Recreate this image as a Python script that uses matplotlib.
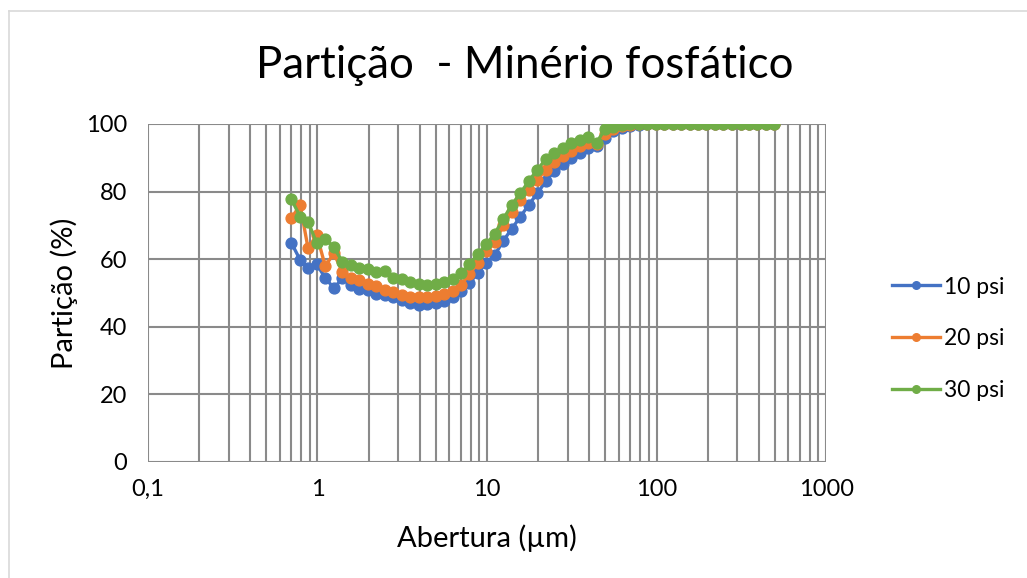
import matplotlib.pyplot as plt
from matplotlib.lines import Line2D

# Aperture sizes (um)
abertura = [0.70, 0.79, 0.88, 0.99, 1.11, 1.25, 1.40, 1.57, 1.76, 1.98,
            2.22, 2.49, 2.80, 3.14, 3.52, 3.95, 4.43, 4.97, 5.58, 6.26,
            7.02, 7.88, 8.84, 9.92, 11.1, 12.5, 14.0, 15.7, 17.6, 19.8,
            22.2, 24.9, 27.9, 31.3, 35.2, 39.5, 44.3, 49.7, 55.7, 62.5,
            70.2, 78.7, 88.3, 99.1, 111, 125, 140, 157, 176, 197,
            221, 248, 279, 313, 351, 394, 442, 496]

psi10 = [64.9, 59.8, 57.3, 58.5, 54.5, 51.4, 54.3, 52.4, 51.3, 50.8,
         49.8, 49.4, 48.8, 47.8, 46.9, 46.4, 46.6, 46.9, 47.6, 48.7,
         50.5, 52.9, 56.0, 59.0, 61.2, 65.5, 69.0, 72.5, 76.0, 79.5,
         83.0, 86.0, 88.3, 89.8, 91.3, 92.8, 93.5, 96.0, 97.8, 98.9,
         99.5, 99.8, 100, 100, 100, 100, 100, 100, 100, 100,
         100, 100, 100, 100, 100, 100, 100, 100]

psi20 = [72.1, 76.0, 63.2, 67.2, 58.0, 61.7, 56.3, 54.3, 53.8, 52.8,
         52.0, 51.0, 50.2, 49.3, 48.8, 48.8, 48.9, 49.2, 49.8, 50.6,
         52.5, 55.5, 59.0, 62.5, 65.0, 70.0, 74.0, 77.5, 80.5, 83.5,
         86.5, 88.8, 90.5, 92.0, 93.5, 94.5, 94.0, 97.0, 98.5, 99.3,
         99.7, 99.9, 100, 100, 100, 100, 100, 100, 100, 100,
         100, 100, 100, 100, 100, 100, 100, 100]

psi30 = [77.8, 72.6, 71.1, 64.7, 66.0, 63.5, 59.3, 58.3, 57.5, 57.1,
         56.1, 56.5, 54.3, 54.0, 53.2, 52.8, 52.5, 52.8, 53.3, 54.2,
         55.8, 58.5, 61.5, 64.5, 67.5, 72.0, 76.0, 79.5, 83.0, 86.5,
         89.5, 91.5, 93.0, 94.3, 95.3, 96.2, 94.5, 98.5, 99.2, 99.7,
         99.9, 100, 100, 100, 100, 100, 100, 100, 100, 100,
         100, 100, 100, 100, 100, 100, 100, 100]

plt.rcParams['font.family'] = ['Lato', 'DejaVu Sans']

fig = plt.figure(figsize=(10.27, 5.78), dpi=100)
ax = fig.add_axes([0.1441, 0.2007, 0.6602, 0.5848])

# light chart border (Excel style)
fig.add_artist(Line2D([9 / 1027, 9 / 1027], [0, 1 - 11 / 578], color='#d9d9d9', lw=1.2))
fig.add_artist(Line2D([9 / 1027, 1], [1 - 11 / 578, 1 - 11 / 578], color='#d9d9d9', lw=1.2))

series = [(psi10, '10 psi', '#4472C4'),
          (psi20, '20 psi', '#ED7D31'),
          (psi30, '30 psi', '#70AD47')]
for vals, lab, col in series:
    ax.plot(abertura, vals, color=col, lw=2.4, marker='o', ms=7.8, label=lab, zorder=3)

ax.set_xscale('log')
ax.set_xlim(0.1, 1000)
ax.set_ylim(0, 100)
ax.set_yticks([0, 20, 40, 60, 80, 100])
ax.set_xticks([0.1, 1, 10, 100, 1000])
ax.set_xticklabels(['0,1', '1', '10', '100', '1000'])
ax.grid(True, which='both', color='#8a8a8a', lw=1.5)
ax.tick_params(which='both', length=0, labelsize=17)
ax.tick_params(axis='y', pad=15)
ax.tick_params(axis='x', pad=12)
for s in ax.spines.values():
    s.set_visible(False)

fig.text(525 / 1027, 1 - 65 / 578, 'Partição  - Minério fosfático', fontsize=31.5,
         ha='center', va='center')
ax.set_xlabel('Abertura (µm)', fontsize=21, labelpad=18)
ax.set_ylabel('Partição (%)', fontsize=21, labelpad=6)

leg = ax.legend(loc='center left', bbox_to_anchor=(1.067, 0.364), frameon=False,
                fontsize=16.5, handlelength=2.1, labelspacing=1.35, handletextpad=0.15,
                markerscale=0.7)

plt.savefig('out.png', dpi=100)
